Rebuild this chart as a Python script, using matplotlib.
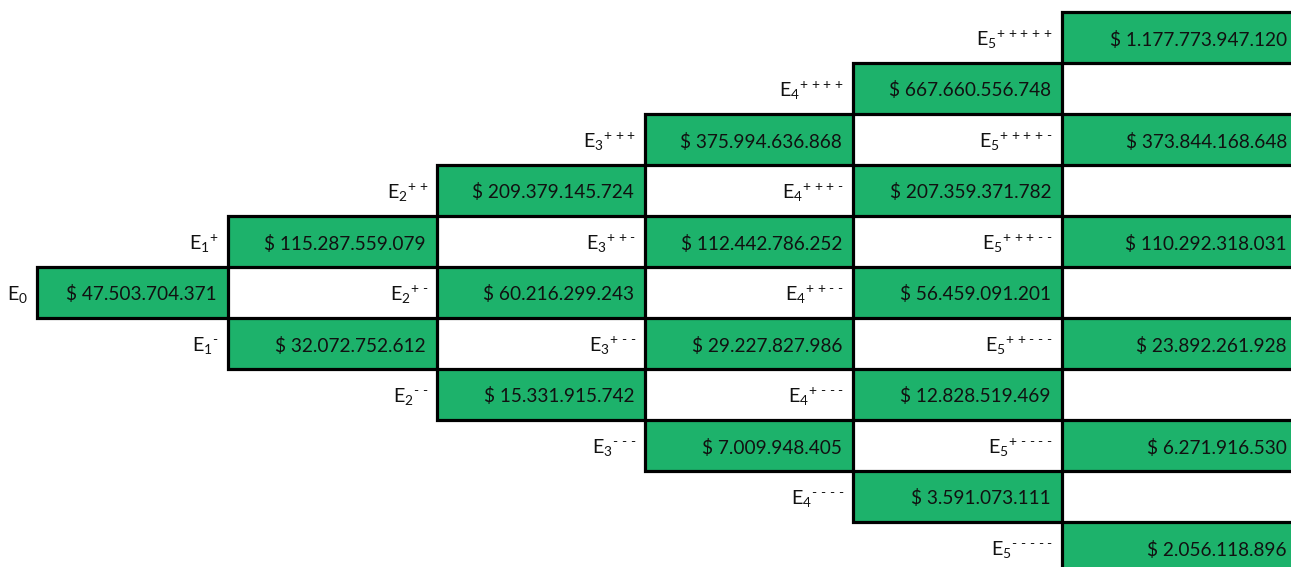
import matplotlib.pyplot as plt
from matplotlib.patches import Rectangle
import matplotlib as mpl

mpl.rcParams['font.family'] = 'Lato'
mpl.rcParams['mathtext.fontset'] = 'custom'
mpl.rcParams['mathtext.rm'] = 'Lato'
mpl.rcParams['mathtext.it'] = 'Lato'

# node values per step (highest first)
E0 = [47503704371]
E1 = [115287559079, 32072752612]
E2 = [209379145724, 60216299243, 15331915742]
E3 = [375994636868, 112442786252, 29227827986, 7009948405]
E4 = [667660556748, 207359371782, 56459091201, 12828519469, 3591073111]
E5 = [1177773947120, 373844168648, 110292318031, 23892261928, 6271916530, 2056118896]
steps = [E0, E1, E2, E3, E4, E5]

# layout (pixels)
col_left = [37, 228, 437, 645, 853, 1062]
col_width = [191, 209, 208, 208, 209, 236]
row_top0 = 12
row_h = 51
green = '#1db26b'
fs = 13.7

fig = plt.figure(figsize=(12.91, 5.67), dpi=100)
ax = fig.add_axes([0, 0, 1, 1])
ax.set_xlim(0, 1291)
ax.set_ylim(567, 0)
ax.axis('off')

def fmt(v):
    return '$ ' + f'{v:,}'.replace(',', '.')

for n, vals in enumerate(steps):
    for k, v in enumerate(vals):
        ups = n - k
        row = 5 - n + 2 * k
        y0 = row_top0 + row * row_h
        x0 = col_left[n]
        w = col_width[n]
        ax.add_patch(Rectangle((x0, y0), w, row_h, facecolor=green,
                               edgecolor='black', linewidth=2.3, zorder=2))
        ax.text(x0 + w - 11, y0 + row_h / 2 + 2, fmt(v), ha='right', va='center',
                fontsize=fs, color='#111111', zorder=3)
        if n == 0:
            lab = r'$\mathrm{E}_{0}$'
        else:
            signs = r'\ '.join([r'\text{+}'] * ups + [r'\text{-}'] * (n - ups))
            lab = r'$\mathrm{E}_{%d}{}^{%s}$' % (n, signs)
        ax.text(x0 - 9, y0 + row_h / 2 + 2, lab, ha='right', va='center',
                fontsize=fs + 0.5, color='#111111', zorder=3)

fig.savefig('out.png', dpi=100)
